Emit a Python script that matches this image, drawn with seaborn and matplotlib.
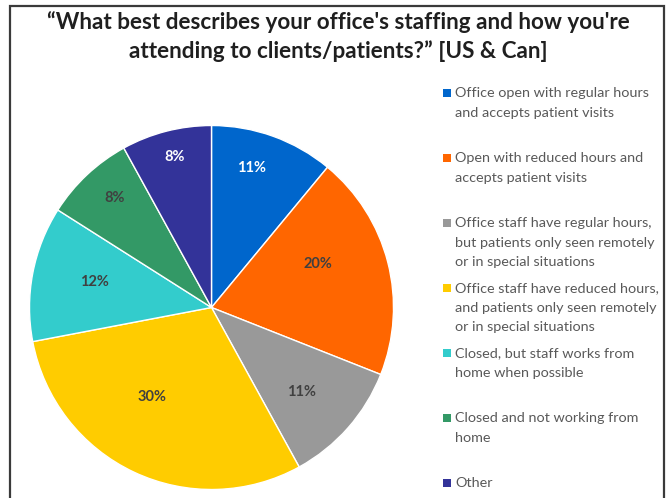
import numpy as np
import matplotlib
matplotlib.use("Agg")
import matplotlib.pyplot as plt
from matplotlib.patches import Rectangle
import seaborn as sns

# Survey answers and their shares (percent)
categories = [
    "Office open with regular hours\nand accepts patient visits",
    "Open with reduced hours and\naccepts patient visits",
    "Office staff have regular hours,\nbut patients only seen remotely\nor in special situations",
    "Office staff have reduced hours,\nand patients only seen remotely\nor in special situations",
    "Closed, but staff works from\nhome when possible",
    "Closed and not working from\nhome",
    "Other",
]
shares = [11, 20, 11, 30, 12, 8, 8]
colors = ["#0066CC", "#FF6600", "#999999", "#FFCC00", "#33CCCC", "#339966", "#333399"]
label_colors = ["white", "#404040", "#404040", "#404040", "#404040", "#404040", "white"]

title = "\u201cWhat best describes your office's staffing and how you're\nattending to clients/patients?\u201d [US & Can]"

sns.set_theme(style="white")
plt.rcParams["font.family"] = ["Lato", "DejaVu Sans"]
palette = sns.color_palette(colors)

W, H = 668, 498
fig = plt.figure(figsize=(W / 100, H / 100), dpi=100)
fig.patch.set_facecolor("white")

# frame around the chart area
fig.patches.append(Rectangle((9.5 / W, -0.1), (664 - 9.5) / W, 1.1 - 6.5 / H,
                             transform=fig.transFigure, fill=False,
                             edgecolor="#3a3a3a", linewidth=1.6))

# pie
cx, cy, r = 211.5, 307.5, 182
ax = fig.add_axes([(cx - r) / W, (H - cy - r) / H, 2 * r / W, 2 * r / H])
wedges, _ = ax.pie(shares, colors=palette, startangle=90, counterclock=False,
                   wedgeprops=dict(edgecolor="white", linewidth=1.0))
ax.set_xlim(-1, 1)
ax.set_ylim(-1, 1)
ax.set_aspect("equal")
ax.axis("off")

# percentage labels placed along each wedge's bisector
radial = [0.80, 0.63, 0.68, 0.59, 0.66, 0.80, 0.85]
nudge = [3.7, 7.8, -1.6, -8.6, -1.6, -1.7, -0.5]
for w, v, f, d, c in zip(wedges, shares, radial, nudge, label_colors):
    ang = np.deg2rad((w.theta1 + w.theta2) / 2 + d)
    ax.text(f * np.cos(ang), f * np.sin(ang), f"{v}%", ha="center", va="center",
            fontsize=10.5, fontweight="bold", color=c)

# title
fig.text(338 / W, 1 - 36.5 / H, title, ha="center", va="center", fontsize=16.2,
         fontweight="bold", color="#1f1f1f", linespacing=1.38)

# legend, one entry per answer
lg = fig.add_axes([0, 0, 1, 1])
lg.set_xlim(0, W)
lg.set_ylim(H, 0)
lg.axis("off")
lg.patch.set_alpha(0)
start, step, line_step = 93, 65, 19.5
for i, (lab, col) in enumerate(zip(categories, palette)):
    y0 = start + i * step
    lg.scatter([446.5], [y0], marker="s", s=30, color=col, linewidths=0)
    for j, line in enumerate(lab.split("\n")):
        lg.text(455, y0 + j * line_step, line, ha="left", va="center",
                fontsize=10.4, color="#595959", clip_on=True)

fig.savefig("out.png", dpi=100, facecolor="white")
